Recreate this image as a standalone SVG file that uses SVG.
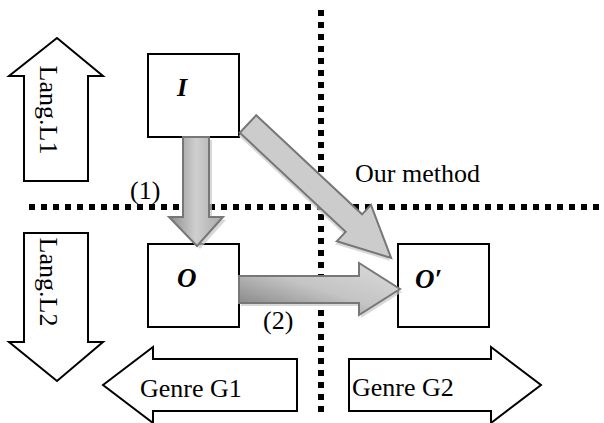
<svg xmlns="http://www.w3.org/2000/svg" width="604" height="423" viewBox="0 0 604 423">
<style>
.box{fill:#fff;stroke:#000;stroke-width:2}
.hollow{fill:#fff;stroke:#000;stroke-width:2;stroke-linejoin:miter}
.dot{fill:none;stroke:#000;stroke-width:6;stroke-dasharray:6 6}
.t{font-family:"Liberation Serif","Times New Roman",serif;font-size:26px;fill:#000}
.v{font-family:"Liberation Serif","Times New Roman",serif;font-size:26px;font-weight:bold;font-style:italic;fill:#000}
.flow{stroke:#777;stroke-width:2;stroke-linejoin:miter}
.shadow{fill:#c8c8c8;opacity:0.7}
</style>
<defs>
<linearGradient id="gDown" x1="0" y1="0" x2="1" y2="0">
<stop offset="0" stop-color="#8c8c8c"/>
<stop offset="0.5" stop-color="#cfcfcf"/>
<stop offset="1" stop-color="#a8a8a8"/>
</linearGradient>
<linearGradient id="gRight" x1="0" y1="1" x2="1" y2="0">
<stop offset="0" stop-color="#7a7a7a"/>
<stop offset="0.5" stop-color="#c4c4c4"/>
<stop offset="1" stop-color="#dcdcdc"/>
</linearGradient>
</defs>

<g id="grid">
<line class="dot" x1="29" y1="207" x2="600" y2="207"/>
<line class="dot" x1="321" y1="10" x2="321" y2="413"/>
</g>

<g id="lang-l1">
<polygon class="hollow" points="57,38 103,76 88,76 88,181 24,181 24,76 9,76"/>
<text class="t" transform="translate(40,110) rotate(90)" text-anchor="middle">Lang.L1</text>
</g>

<g id="lang-l2">
<polygon class="hollow" points="24,233 88,233 88,342 103,342 57,381 9,342 24,342"/>
<text class="t" transform="translate(40,282) rotate(90)" text-anchor="middle">Lang.L2</text>
</g>

<g id="genre-g1">
<polygon class="hollow" points="103,385 153,347 153,359 297,359 297,411 153,411 153,423"/>
<text class="t" x="140" y="397">Genre G1</text>
</g>

<g id="genre-g2">
<polygon class="hollow" points="349,359 491,359 491,347 541,385 491,423 491,411 349,411"/>
<text class="t" x="352" y="396">Genre G2</text>
</g>

<g id="node-I">
<rect class="box" x="148" y="54" width="91" height="83"/>
<text class="v" x="177" y="96">I</text>
</g>

<g id="node-O">
<rect class="box" x="148" y="244" width="91" height="83"/>
<text class="v" x="177" y="287" style="font-size:27px">O</text>
</g>

<g id="node-Oprime">
<rect class="box" x="398" y="244" width="91" height="83"/>
<text class="v" x="415" y="288" style="font-size:27px">O′</text>
</g>

<g id="connectors">
<polygon class="shadow" points="186,140 212,140 212,220 226,220 200,249 172,220 186,220"/>
<polygon class="flow" fill="url(#gDown)" points="183,137 209,137 209,217 223,217 197,246 169,217 183,217"/>
<polygon class="shadow" points="241,279 361,279 361,266 402,292 361,318 361,306 241,306"/>
<polygon class="flow" fill="url(#gRight)" points="239,276 359,276 359,263 400,289 359,315 359,303 239,303"/>
<g transform="translate(248,124) rotate(43.1)">
<polygon class="shadow" transform="translate(1,3)" points="0,-12 145,-12 145,-25 196,0 145,25 145,12 0,12"/>
<polygon class="flow" fill="#cccccc" points="0,-12 145,-12 145,-25 196,0 145,25 145,12 0,12"/>
</g>
</g>

<g id="labels">
<text class="t" x="130" y="199">(1)</text>
<text class="t" x="263" y="329">(2)</text>
<text class="t" x="355" y="182">Our method</text>
</g>
</svg>
